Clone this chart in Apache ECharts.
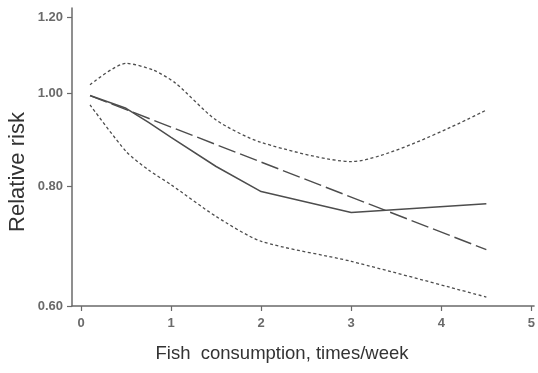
<!DOCTYPE html>
<html>
<head>
<meta charset="utf-8">
<script src="https://cdn.jsdelivr.net/npm/echarts@6/dist/echarts.min.js"></script>
<style>
html,body{margin:0;padding:0;background:#fff;}
#c{width:538px;height:373px;}
</style>
</head>
<body>
<div id="c"></div>
<script>
// Data (relative risk, log-scaled y axis)
const solidX = [0.1, 0.5, 0.75, 1, 1.5, 2, 3, 4.5];
const solidRR = [0.995, 0.965, 0.933, 0.90, 0.839, 0.790, 0.751, 0.767];
const trendX = [0.1, 4.5];
const trendRR = [0.995, 0.687];
const upperX = [0.1, 0.5, 0.8, 1.05, 1.5, 2, 3, 4.5];
const upperRR = [1.021, 1.075, 1.058, 1.025, 0.938, 0.889, 0.849, 0.961];
const lowerX = [0.1, 0.5, 0.75, 1, 1.5, 2, 3, 4.5];
const lowerRR = [0.973, 0.870, 0.832, 0.803, 0.744, 0.701, 0.668, 0.613];
const xTicks = [0, 1, 2, 3, 4, 5];
const yTicks = [0.60, 0.80, 1.00, 1.20];
const yMin = 0.60, yMax = 1.228;
const xMin = -0.1, xMax = 5.03;
const xTitle = 'Fish  consumption, times/week';
const yTitle = 'Relative risk';

const pts = (xs, ys) => xs.map((x, i) => [x, Math.log(ys[i])]);
const lineCol = '#4d4d4d';
const axisCol = '#6a6a6a';
const font = '"Liberation Sans", Arial, sans-serif';
const tickLabel = { color: '#6a6a6a', fontSize: 13, fontWeight: 'bold', fontFamily: font };

const chart = echarts.init(document.getElementById('c'));
chart.setOption({
  animation: false,
  backgroundColor: '#fff',
  grid: { left: 72, right: 0, top: 8, bottom: 67, containLabel: false },
  xAxis: {
    type: 'value', min: xMin, max: xMax,
    splitLine: { show: false },
    axisLine: { show: true, onZero: false, lineStyle: { color: axisCol, width: 1.5 } },
    axisTick: { show: true, length: 5, customValues: xTicks, lineStyle: { color: axisCol, width: 1.2 } },
    axisLabel: Object.assign({ customValues: xTicks, margin: 11, formatter: v => String(Math.round(v)) }, tickLabel)
  },
  yAxis: {
    type: 'value', min: Math.log(yMin), max: Math.log(yMax),
    splitLine: { show: false },
    axisLine: { show: true, onZero: false, lineStyle: { color: axisCol, width: 1.5 } },
    axisTick: { show: true, length: 5, customValues: yTicks.map(Math.log), lineStyle: { color: axisCol, width: 1.2 } },
    axisLabel: Object.assign({ customValues: yTicks.map(Math.log), margin: 9, formatter: v => Math.exp(v).toFixed(2) }, tickLabel)
  },
  graphic: [
    { type: 'text', x: 282, y: 354, style: { text: xTitle, fill: '#333', font: '18.5px ' + font, textAlign: 'center', textVerticalAlign: 'middle' } },
    { type: 'text', x: 18, y: 172, rotation: Math.PI / 2, style: { text: yTitle, fill: '#333', font: '22px ' + font, textAlign: 'center', textVerticalAlign: 'middle' } }
  ],
  series: [
    { type: 'line', data: pts(upperX, upperRR), symbol: 'none', smooth: 0.25,
      lineStyle: { color: lineCol, width: 1.3, type: [3, 2.5] } },
    { type: 'line', data: pts(lowerX, lowerRR), symbol: 'none', smooth: 0.25,
      lineStyle: { color: lineCol, width: 1.3, type: [3, 2.5] } },
    { type: 'line', data: pts(trendX, trendRR), symbol: 'none',
      lineStyle: { color: lineCol, width: 1.4, type: [18, 5] } },
    { type: 'line', data: pts(solidX, solidRR), symbol: 'none',
      lineStyle: { color: lineCol, width: 1.5 } }
  ]
});
</script>
</body>
</html>
